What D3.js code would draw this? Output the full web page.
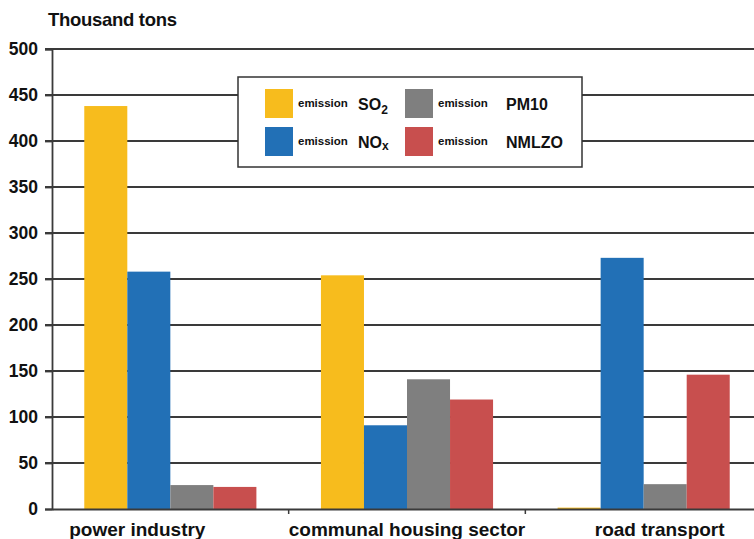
<!DOCTYPE html>
<html>
<head>
<meta charset="utf-8">
<script src="https://cdn.jsdelivr.net/npm/d3@7"></script>
<style>
  html, body { margin: 0; padding: 0; background: #fff; }
  svg { display: block; font-family: "Liberation Sans", Arial, sans-serif; }
</style>
</head>
<body>
<svg id="chart" width="754" height="539"></svg>
<script>
// Emissions by sector, thousand tons
const categories = ["power industry", "communal housing sector", "road transport"];
const seriesKeys = ["SO2", "NOx", "PM10", "NMLZO"];
const so2   = [438, 254, 1.5];
const nox   = [258, 91, 273];
const pm10  = [26, 141, 27];
const nmlzo = [24, 119, 146];
const yTicks = [0, 50, 100, 150, 200, 250, 300, 350, 400, 450, 500];

const seriesValues = { SO2: so2, NOx: nox, PM10: pm10, NMLZO: nmlzo };
const colors = { SO2: "#F7BC1D", NOx: "#2270B6", PM10: "#7F7F7F", NMLZO: "#C84F4E" };
const ink = "#111";
const lineCol = "#3a3a3a";

const svg = d3.select("#chart");
const margin = { left: 52, top: 49, bottom: 30 };
const plotRight = 762;
const height = 539;

const x = d3.scaleBand().domain(categories).range([margin.left, plotRight]).paddingInner(0).paddingOuter(0);
const inner = d3.scaleBand().domain(seriesKeys).range([0, x.bandwidth()]).paddingInner(0).paddingOuter(0.75);
const y = d3.scaleLinear().domain([0, 500]).range([height - margin.bottom, margin.top]);

// horizontal gridlines
svg.append("g")
  .selectAll("line")
  .data(yTicks.filter(d => d > 0))
  .join("line")
  .attr("x1", margin.left - 7)
  .attr("x2", plotRight)
  .attr("y1", d => y(d))
  .attr("y2", d => y(d))
  .attr("stroke", lineCol)
  .attr("stroke-width", 1.8);

// bars
const groups = svg.append("g")
  .selectAll("g")
  .data(categories)
  .join("g")
  .attr("transform", d => `translate(${x(d)},0)`);

groups.selectAll("rect")
  .data((c, i) => seriesKeys.map(k => ({ key: k, value: seriesValues[k][i] })))
  .join("rect")
  .attr("x", d => inner(d.key))
  .attr("width", inner.bandwidth())
  .attr("y", d => y(d.value))
  .attr("height", d => y(0) - y(d.value))
  .attr("fill", d => colors[d.key]);

// y axis
const yAxis = svg.append("g")
  .attr("transform", `translate(${margin.left},0)`)
  .call(d3.axisLeft(y).tickValues(yTicks).tickSize(7).tickPadding(7));
yAxis.select(".domain").attr("stroke", lineCol).attr("stroke-width", 1.8);
yAxis.selectAll(".tick line").attr("stroke", lineCol).attr("stroke-width", 1.8);
yAxis.selectAll(".tick text")
  .attr("font-size", 17.5).attr("font-weight", "bold").attr("fill", ink)
  .attr("font-family", "'Liberation Sans', Arial, sans-serif");

// x axis; category labels sit slightly shifted along the axis
const labelShift = [-33, 0, 16];
const xAxis = svg.append("g")
  .attr("transform", `translate(0,${y(0)})`)
  .call(d3.axisBottom(x).tickSize(0).tickPadding(14));
xAxis.select(".domain").attr("stroke", lineCol).attr("stroke-width", 1.8);
xAxis.selectAll(".tick text")
  .attr("font-size", 19).attr("font-weight", "bold").attr("fill", ink)
  .attr("font-family", "'Liberation Sans', Arial, sans-serif")
  .attr("dx", (d, i) => labelShift[i]);
// separators between categories
svg.append("g")
  .selectAll("line")
  .data(categories.slice(1))
  .join("line")
  .attr("x1", d => x(d)).attr("x2", d => x(d))
  .attr("y1", y(0)).attr("y2", y(0) + 5)
  .attr("stroke", lineCol).attr("stroke-width", 1.5);

// unit label
svg.append("text")
  .attr("x", 48).attr("y", 26)
  .attr("font-size", 18.5).attr("font-weight", "bold").attr("fill", ink)
  .attr("letter-spacing", -0.3)
  .text("Thousand tons");

// legend
const legend = svg.append("g").attr("transform", "translate(238,77)");
legend.append("rect")
  .attr("width", 344).attr("height", 90)
  .attr("fill", "#fff").attr("stroke", "#333").attr("stroke-width", 1.5);

const legendItems = [
  { key: "SO2", col: 0, row: 0, main: "SO", sub: "2" },
  { key: "NOx", col: 0, row: 1, main: "NO", sub: "x" },
  { key: "PM10", col: 1, row: 0, main: "PM10", sub: "" },
  { key: "NMLZO", col: 1, row: 1, main: "NMLZO", sub: "" }
];
const item = legend.selectAll("g.item")
  .data(legendItems)
  .join("g")
  .attr("class", "item")
  .attr("transform", d => `translate(${27 + d.col * 140},${12 + d.row * 38})`);
item.append("rect")
  .attr("width", 28).attr("height", 29)
  .attr("fill", d => colors[d.key]);
item.append("text")
  .attr("x", 33).attr("y", 18)
  .attr("font-size", 11.5).attr("font-weight", "bold").attr("fill", ink)
  .text("emission");
const label = item.append("text")
  .attr("x", d => d.col === 0 ? 93 : 101).attr("y", 21)
  .attr("font-size", 16).attr("font-weight", "bold").attr("fill", ink);
label.append("tspan").text(d => d.main);
label.append("tspan")
  .attr("font-size", 12)
  .attr("dy", d => d.sub === "2" ? 4 : 2)
  .text(d => d.sub);
</script>
</body>
</html>
